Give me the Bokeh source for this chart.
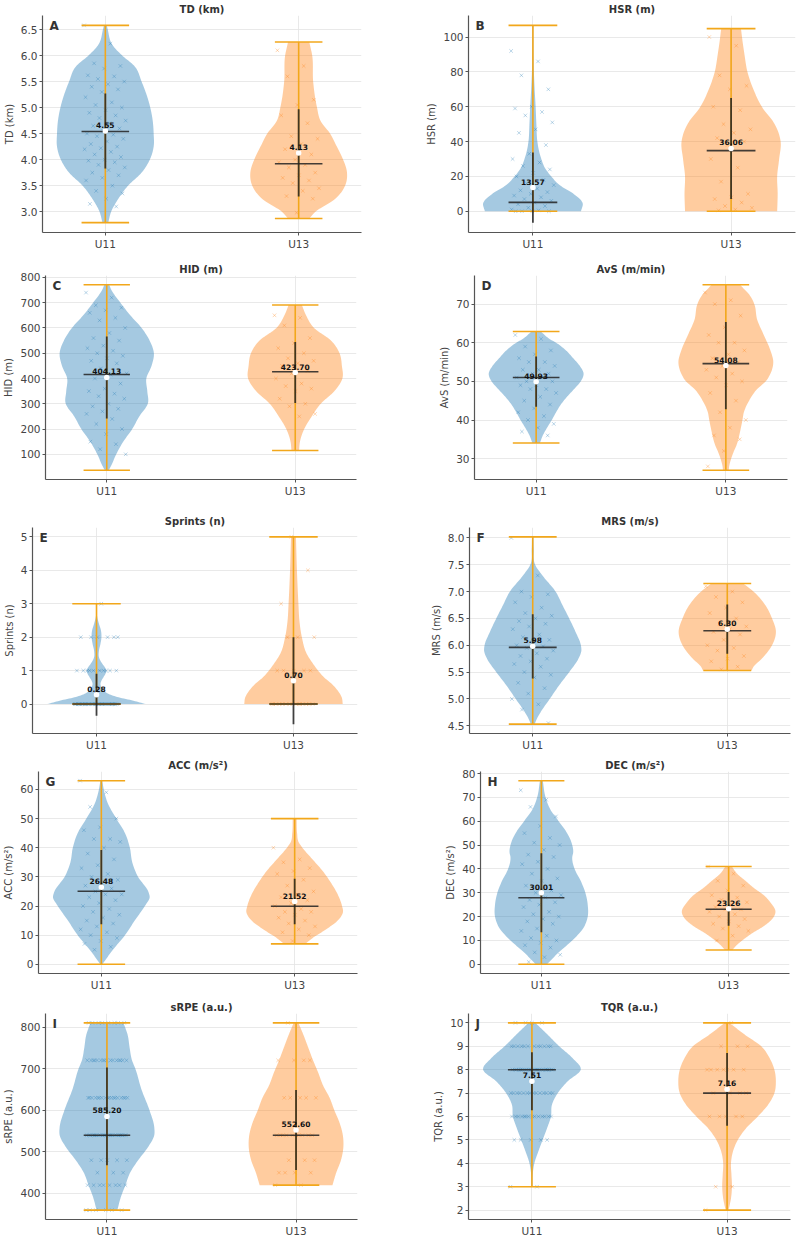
import numpy as np
from bokeh.plotting import figure
from bokeh.layouts import column, row
from bokeh.models import FixedTicker, Range1d, NumeralTickFormatter
from bokeh.embed import file_html
from bokeh.resources import INLINE
from bokeh.core.properties import value

groups = ["U11", "U13"]
group_colors = ["#1f77b4", "#ff7f0e"]

# ---------------- TD (km)
td_min = [2.79, 2.87]
td_max = [6.58, 6.26]
td_median = [4.54, 3.92]
td_mean = [4.55, 4.13]
td_sd = [0.72, 0.84]
td_u11_y = [2.79, 3.0, 3.25, 3.5, 3.75, 4.0, 4.25, 4.5, 4.75, 5.0, 5.5, 5.8, 6.0, 6.2, 6.5, 6.58]
td_u11_w = [0.06, 0.12, 0.27, 0.47, 0.75, 0.92, 1.0, 1.0, 0.98, 0.93, 0.75, 0.6, 0.35, 0.15, 0.05, 0.03]
td_u13_y = [2.87, 3.0, 3.25, 3.5, 3.75, 4.0, 4.25, 4.5, 4.75, 5.0, 5.5, 6.0, 6.26]
td_u13_w = [0.22, 0.35, 0.76, 0.96, 1.0, 0.92, 0.79, 0.65, 0.45, 0.38, 0.3, 0.28, 0.22]
td_u11_pts = [6.58, 6.23, 5.85, 5.8, 5.75, 5.62, 5.6, 5.55, 5.5, 5.45, 5.4, 5.35, 5.3, 5.2, 5.1,
              5.05, 5.0, 4.95, 4.9, 4.85, 4.8, 4.75, 4.7, 4.65, 4.6, 4.55, 4.5, 4.48, 4.45, 4.4,
              4.35, 4.3, 4.25, 4.22, 4.2, 4.15, 4.1, 4.05, 4.0, 3.98, 3.95, 3.9, 3.85, 3.8, 3.75,
              3.7, 3.65, 3.6, 3.5, 3.4, 3.35, 3.25, 3.15, 3.1]
td_u13_pts = [6.1, 5.8, 5.6, 5.15, 5.05, 4.85, 4.7, 4.45, 4.4, 4.3, 4.2, 4.1, 4.0, 3.95, 3.9,
              3.85, 3.75, 3.7, 3.65, 3.6, 3.55, 3.45, 3.4, 3.3, 3.25, 2.98]
td_ticks = [3.0, 3.5, 4.0, 4.5, 5.0, 5.5, 6.0, 6.5]

# ---------------- HSR (m)
hsr_min = [0.0, 0.0]
hsr_max = [106.7, 104.8]
hsr_median = [5.1, 34.8]
hsr_mean = [13.57, 36.06]
hsr_sd = [20.1, 29.0]
hsr_u11_y = [0, 5, 10, 15, 20, 25, 30, 35, 40, 50, 60, 70, 80, 90, 106.7]
hsr_u11_w = [0.97, 1.0, 0.82, 0.54, 0.37, 0.24, 0.17, 0.12, 0.09, 0.07, 0.055, 0.035, 0.02, 0.012, 0.008]
hsr_u13_y = [0, 10, 20, 30, 40, 50, 60, 70, 80, 90, 100, 104.8]
hsr_u13_w = [0.93, 0.94, 0.93, 0.97, 1.0, 0.88, 0.62, 0.45, 0.33, 0.27, 0.22, 0.2]
hsr_u11_pts = [92, 86, 78, 70, 60, 59, 57, 55, 51, 47, 45, 38, 33, 30, 28, 26, 24, 22, 20, 18,
               16, 15, 13, 12, 11, 10, 9, 8, 7, 6, 5, 4, 3, 2, 1, 0.5, 0, 0, 0, 0]
hsr_u13_pts = [100, 95, 78, 72, 70, 60, 58, 50, 47, 45, 42, 40, 38, 30, 25, 17, 10, 8, 7, 5, 3, 2, 1, 0.5]
hsr_ticks = [0, 20, 40, 60, 80, 100]

# ---------------- HID (m)
hid_min = [37, 115]
hid_max = [771, 691]
hid_median = [416, 427]
hid_mean = [404.13, 423.70]
hid_sd = [162, 121]
hid_u11_y = [37, 50, 100, 150, 200, 250, 300, 350, 400, 450, 500, 550, 600, 650, 700, 750, 771]
hid_u11_w = [0.04, 0.08, 0.2, 0.35, 0.54, 0.69, 0.87, 0.86, 0.84, 0.95, 1.0, 0.91, 0.74, 0.5, 0.29, 0.1, 0.05]
hid_u13_y = [115, 150, 200, 250, 300, 350, 400, 450, 500, 550, 600, 650, 691]
hid_u13_w = [0.08, 0.1, 0.19, 0.35, 0.54, 0.83, 1.0, 0.99, 0.94, 0.76, 0.4, 0.23, 0.14]
hid_u11_pts = [740, 720, 690, 680, 670, 660, 640, 630, 600, 580, 560, 550, 530, 520, 510, 500, 490,
               480, 470, 460, 440, 420, 415, 400, 380, 360, 350, 340, 330, 320, 300, 290, 280, 270,
               260, 240, 220, 200, 180, 150, 140, 120, 100]
hid_u13_pts = [650, 640, 610, 560, 540, 520, 500, 480, 470, 460, 450, 430, 420, 400, 380, 370, 360,
               350, 320, 300, 290, 260, 250]
hid_ticks = [0, 100, 200, 300, 400, 500, 600, 700, 800]

# ---------------- AvS (m/min)
avs_min = [34.05, 27.0]
avs_max = [62.9, 75.0]
avs_median = [51.0, 54.6]
avs_mean = [49.93, 54.08]
avs_sd = [6.5, 11.3]
avs_u11_y = [34.05, 36, 38, 40, 42, 44, 46, 48, 50, 52, 54, 56, 58, 60, 61, 62.9]
avs_u11_w = [0.08, 0.14, 0.23, 0.33, 0.42, 0.52, 0.65, 0.8, 0.94, 1.0, 0.92, 0.78, 0.63, 0.42, 0.28, 0.1]
avs_u13_y = [27, 28, 31, 34, 37, 40, 42, 45, 48, 50, 52, 55, 58, 62, 66, 70, 72, 75]
avs_u13_w = [0.06, 0.07, 0.14, 0.24, 0.3, 0.35, 0.38, 0.49, 0.66, 0.84, 0.94, 1.0, 0.94, 0.8, 0.66, 0.6, 0.52, 0.3]
avs_u11_pts = [62, 61, 59, 58, 57, 56, 55, 55, 54, 53, 53, 52, 52, 51, 51, 50, 50, 49, 49, 48, 48,
               47, 46, 45, 44, 43, 42, 41, 40, 39, 38, 37, 36]
avs_u13_pts = [73, 71, 70, 67, 64, 62, 60, 60, 58, 57, 56, 55, 54, 53, 52, 51, 50, 49, 47, 45, 42,
               40, 38, 36, 35, 32, 28]
avs_ticks = [30, 40, 50, 60, 70]

# ---------------- Sprints (n)
spr_min = [0, 0]
spr_max = [3, 5]
spr_median = [0, 0]
spr_mean = [0.28, 0.70]
spr_sd = [0.63, 1.30]
spr_u11_y = [0, 0.1, 0.2, 0.3, 0.4, 0.5, 0.6, 0.7, 0.8, 0.9, 1.0, 1.1, 1.2, 1.4, 1.6, 1.8, 2.0, 2.2, 2.4, 2.6, 3.0]
spr_u11_w = [1.0, 0.75, 0.45, 0.25, 0.15, 0.1, 0.08, 0.1, 0.14, 0.18, 0.2, 0.17, 0.12, 0.05, 0.05,
             0.08, 0.1, 0.09, 0.05, 0.015, 0.005]
spr_u13_y = [0, 0.2, 0.4, 0.6, 0.8, 1.0, 1.2, 1.5, 2.0, 2.5, 3.0, 4.0, 5.0]
spr_u13_w = [1.0, 0.98, 0.9, 0.78, 0.62, 0.5, 0.4, 0.27, 0.17, 0.12, 0.1, 0.07, 0.05]
spr_u11_vals = [0, 1, 2, 3]
spr_u11_counts = [40, 10, 6, 1]
spr_u13_vals = [0, 1, 2, 3, 4, 5]
spr_u13_counts = [15, 5, 3, 1, 1, 1]
spr_ticks = [0, 1, 2, 3, 4, 5]

# ---------------- MRS (m/s)
mrs_min = [4.53, 5.53]
mrs_max = [8.02, 7.15]
mrs_median = [5.96, 6.27]
mrs_mean = [5.98, 6.30]
mrs_sd = [0.60, 0.46]
mrs_u11_y = [4.53, 4.6, 4.75, 5.0, 5.25, 5.5, 5.75, 5.9, 6.0, 6.25, 6.5, 6.75, 7.0, 7.3, 7.5, 7.8, 8.02]
mrs_u11_w = [0.04, 0.07, 0.16, 0.35, 0.54, 0.75, 0.94, 1.0, 0.99, 0.88, 0.75, 0.61, 0.47, 0.2, 0.05, 0.02, 0.015]
mrs_u13_y = [5.53, 5.6, 5.75, 6.0, 6.25, 6.5, 6.75, 7.0, 7.15]
mrs_u13_w = [0.5, 0.54, 0.71, 0.92, 1.0, 0.92, 0.78, 0.54, 0.33]
mrs_u11_pts = [8.0, 7.3, 7.0, 6.95, 6.9, 6.8, 6.7, 6.6, 6.55, 6.5, 6.45, 6.4, 6.35, 6.3, 6.2, 6.15,
               6.1, 6.05, 6.0, 5.98, 5.95, 5.9, 5.85, 5.8, 5.75, 5.7, 5.65, 5.6, 5.5, 5.45, 5.4,
               5.3, 5.2, 5.1, 5.0, 4.9, 4.8, 4.55]
mrs_u13_pts = [7.1, 7.0, 6.9, 6.8, 6.7, 6.6, 6.5, 6.4, 6.35, 6.3, 6.25, 6.2, 6.1, 6.0, 5.95, 5.9,
               5.8, 5.75, 5.7, 5.6, 5.55]
mrs_ticks = [4.5, 5.0, 5.5, 6.0, 6.5, 7.0, 7.5, 8.0]

# ---------------- ACC (m/s²)
acc_min = [0, 7]
acc_max = [63, 50]
acc_median = [25.05, 19.9]
acc_mean = [26.48, 21.52]
acc_sd = [12.7, 7.8]
acc_u11_y = [0, 5, 10, 15, 20, 23, 25, 30, 35, 40, 45, 50, 55, 60, 63]
acc_u11_w = [0.02, 0.24, 0.49, 0.69, 0.9, 1.0, 0.97, 0.76, 0.64, 0.59, 0.49, 0.31, 0.14, 0.05, 0.02]
acc_u13_y = [7, 9, 12, 15, 18, 20, 24, 28, 32, 36, 40, 42, 45, 50]
acc_u13_w = [0.22, 0.37, 0.65, 0.89, 1.0, 0.98, 0.89, 0.75, 0.58, 0.37, 0.16, 0.08, 0.05, 0.04]
acc_u11_pts = [63, 59, 54, 50, 47, 46, 43, 43, 42, 40, 38, 36, 34, 33, 31, 30, 29, 28, 27, 26, 25,
               24, 24, 23, 22, 21, 20, 19, 18, 17, 16, 15, 14, 13, 12, 11, 10, 9, 8, 7, 6, 5]
acc_u13_pts = [40, 36, 35, 33, 32, 31, 29, 27, 25, 24, 23, 22, 21, 20, 19, 18, 18, 17, 16, 15, 14,
               13, 12, 11, 10, 8]
acc_ticks = [0, 10, 20, 30, 40, 50, 60]

# ---------------- DEC (m/s²)
dec_min = [0, 6]
dec_max = [77, 41]
dec_median = [27.9, 23.1]
dec_mean = [30.01, 23.26]
dec_sd = [16.6, 7.1]
dec_u11_y = [0, 5, 10, 15, 20, 25, 30, 35, 40, 45, 47, 50, 55, 60, 65, 70, 77]
dec_u11_w = [0.12, 0.37, 0.66, 0.89, 0.99, 0.99, 0.94, 0.84, 0.71, 0.66, 0.68, 0.66, 0.55, 0.37, 0.19, 0.09, 0.03]
dec_u13_y = [6, 8, 10, 13, 16, 19, 22, 26, 29, 32, 35, 38, 41]
dec_u13_w = [0.08, 0.17, 0.29, 0.5, 0.75, 0.93, 1.0, 0.89, 0.75, 0.54, 0.36, 0.18, 0.07]
dec_u11_pts = [73, 69, 66, 62, 58, 55, 53, 51, 50, 48, 46, 45, 43, 42, 40, 38, 36, 35, 33, 31, 30,
               29, 28, 27, 26, 25, 24, 22, 21, 20, 19, 18, 17, 15, 14, 12, 11, 10, 9, 8, 7, 5, 4, 3, 1]
dec_u13_pts = [41, 38, 35, 33, 31, 29, 28, 27, 26, 25, 24, 23, 23, 22, 21, 20, 19, 18, 17, 16, 15,
               14, 12, 10]
dec_ticks = [0, 10, 20, 30, 40, 50, 60, 70, 80]

# ---------------- sRPE (a.u.)
srpe_min = [360, 420]
srpe_max = [810, 810]
srpe_median = [540, 540]
srpe_mean = [585.20, 552.60]
srpe_sd = [117.6, 96.0]
srpe_u11_y = [360, 390, 420, 450, 480, 510, 540, 560, 600, 650, 700, 720, 750, 780, 810]
srpe_u11_w = [0.22, 0.29, 0.39, 0.49, 0.66, 0.86, 1.0, 1.0, 0.9, 0.73, 0.6, 0.53, 0.48, 0.44, 0.35]
srpe_u13_y = [420, 450, 480, 510, 540, 570, 600, 630, 660, 690, 720, 750, 780, 810]
srpe_u13_w = [0.77, 0.85, 0.95, 1.0, 0.99, 0.92, 0.81, 0.71, 0.57, 0.47, 0.36, 0.26, 0.16, 0.05]
srpe_u11_vals = [360, 420, 450, 480, 540, 630, 720, 810]
srpe_u11_counts = [6, 8, 3, 5, 25, 18, 16, 8]
srpe_u13_vals = [420, 450, 480, 540, 630, 720, 810]
srpe_u13_counts = [2, 4, 3, 10, 5, 4, 1]
srpe_ticks = [400, 500, 600, 700, 800]

# ---------------- TQR (a.u.)
tqr_min = [3, 2]
tqr_max = [10, 10]
tqr_median = [8, 7]
tqr_mean = [7.51, 7.16]
tqr_sd = [1.24, 1.55]
tqr_u11_y = [3, 3.5, 4, 4.5, 5, 5.5, 6, 6.5, 7, 7.5, 8, 8.5, 9, 9.5, 10]
tqr_u11_w = [0.01, 0.015, 0.05, 0.13, 0.22, 0.31, 0.39, 0.41, 0.53, 0.73, 1.0, 0.83, 0.56, 0.32, 0.07]
tqr_u13_y = [2, 2.5, 3, 3.5, 4, 4.5, 5, 5.5, 6, 6.5, 7, 7.5, 8, 8.5, 9, 9.5, 10]
tqr_u13_w = [0.03, 0.08, 0.1, 0.09, 0.08, 0.12, 0.22, 0.39, 0.63, 0.84, 0.97, 1.0, 0.97, 0.87, 0.7, 0.36, 0.05]
tqr_u11_vals = [3, 5, 6, 7, 8, 9, 10]
tqr_u11_counts = [2, 5, 14, 14, 25, 12, 4]
tqr_u13_vals = [2, 3, 6, 7, 8, 9, 10]
tqr_u13_counts = [1, 2, 5, 4, 7, 3, 1]
tqr_ticks = [2, 3, 4, 5, 6, 7, 8, 9, 10]


def expand(vals, counts):
    return list(np.repeat(vals, counts))


panels = [
    dict(letter="A", title="TD (km)", ylabel="TD (km)", mn=td_min, mx=td_max, med=td_median,
         mean=td_mean, sd=td_sd, prof=[(td_u11_y, td_u11_w), (td_u13_y, td_u13_w)],
         pts=[td_u11_pts, td_u13_pts], ticks=td_ticks, fmt="0.0"),
    dict(letter="B", title="HSR (m)", ylabel="HSR (m)", mn=hsr_min, mx=hsr_max, med=hsr_median,
         mean=hsr_mean, sd=hsr_sd, prof=[(hsr_u11_y, hsr_u11_w), (hsr_u13_y, hsr_u13_w)],
         pts=[hsr_u11_pts, hsr_u13_pts], ticks=hsr_ticks, fmt="0"),
    dict(letter="C", title="HID (m)", ylabel="HID (m)", mn=hid_min, mx=hid_max, med=hid_median,
         mean=hid_mean, sd=hid_sd, prof=[(hid_u11_y, hid_u11_w), (hid_u13_y, hid_u13_w)],
         pts=[hid_u11_pts, hid_u13_pts], ticks=hid_ticks, fmt="0"),
    dict(letter="D", title="AvS (m/min)", ylabel="AvS (m/min)", mn=avs_min, mx=avs_max, med=avs_median,
         mean=avs_mean, sd=avs_sd, prof=[(avs_u11_y, avs_u11_w), (avs_u13_y, avs_u13_w)],
         pts=[avs_u11_pts, avs_u13_pts], ticks=avs_ticks, fmt="0"),
    dict(letter="E", title="Sprints (n)", ylabel="Sprints (n)", mn=spr_min, mx=spr_max, med=spr_median,
         mean=spr_mean, sd=spr_sd, prof=[(spr_u11_y, spr_u11_w), (spr_u13_y, spr_u13_w)],
         pts=[expand(spr_u11_vals, spr_u11_counts), expand(spr_u13_vals, spr_u13_counts)],
         ticks=spr_ticks, fmt="0"),
    dict(letter="F", title="MRS (m/s)", ylabel="MRS (m/s)", mn=mrs_min, mx=mrs_max, med=mrs_median,
         mean=mrs_mean, sd=mrs_sd, prof=[(mrs_u11_y, mrs_u11_w), (mrs_u13_y, mrs_u13_w)],
         pts=[mrs_u11_pts, mrs_u13_pts], ticks=mrs_ticks, fmt="0.0"),
    dict(letter="G", title="ACC (m/s²)", ylabel="ACC (m/s²)", mn=acc_min, mx=acc_max, med=acc_median,
         mean=acc_mean, sd=acc_sd, prof=[(acc_u11_y, acc_u11_w), (acc_u13_y, acc_u13_w)],
         pts=[acc_u11_pts, acc_u13_pts], ticks=acc_ticks, fmt="0"),
    dict(letter="H", title="DEC (m/s²)", ylabel="DEC (m/s²)", mn=dec_min, mx=dec_max, med=dec_median,
         mean=dec_mean, sd=dec_sd, prof=[(dec_u11_y, dec_u11_w), (dec_u13_y, dec_u13_w)],
         pts=[dec_u11_pts, dec_u13_pts], ticks=dec_ticks, fmt="0"),
    dict(letter="I", title="sRPE (a.u.)", ylabel="sRPE (a.u.)", mn=srpe_min, mx=srpe_max, med=srpe_median,
         mean=srpe_mean, sd=srpe_sd, prof=[(srpe_u11_y, srpe_u11_w), (srpe_u13_y, srpe_u13_w)],
         pts=[expand(srpe_u11_vals, srpe_u11_counts), expand(srpe_u13_vals, srpe_u13_counts)],
         ticks=srpe_ticks, fmt="0"),
    dict(letter="J", title="TQR (a.u.)", ylabel="TQR (a.u.)", mn=tqr_min, mx=tqr_max, med=tqr_median,
         mean=tqr_mean, sd=tqr_sd, prof=[(tqr_u11_y, tqr_u11_w), (tqr_u13_y, tqr_u13_w)],
         pts=[expand(tqr_u11_vals, tqr_u11_counts), expand(tqr_u13_vals, tqr_u13_counts)],
         ticks=tqr_ticks, fmt="0"),
]

# Layout: row heights and per-panel borders (left, right, top, bottom)
row_heights = [253, 250, 250, 240, 246]
borders = [
    (32, 39, 13, 21), (68, 5, 13, 21),
    (36, 44, 22, 16), (74, 13, 22, 24),
    (29, 43, 24, 18), (69, 10, 24, 15),
    (37, 43, 14, 19), (80, 11, 18, 20),
    (38, 43, 19, 15), (68, 10, 20, 18),
]

FONT = "DejaVu Sans"
HALF_WIDTH = 0.25      # maximum violin half-width in category units
CAP = 0.123            # half-length of caps / median bar
LINE_ORANGE = "#f2a71b"
DARK = "#222222"


def smooth_profile(ys, ws, n=240):
    ys = np.asarray(ys, float)
    ws = np.asarray(ws, float)
    m = np.gradient(ws, ys)
    t = np.linspace(ys[0], ys[-1], n)
    idx = np.clip(np.searchsorted(ys, t, side="right") - 1, 0, len(ys) - 2)
    h = ys[idx + 1] - ys[idx]
    s = (t - ys[idx]) / h
    h00 = 2 * s**3 - 3 * s**2 + 1
    h10 = s**3 - 2 * s**2 + s
    h01 = -2 * s**3 + 3 * s**2
    h11 = s**3 - s**2
    w = h00 * ws[idx] + h10 * h * m[idx] + h01 * ws[idx + 1] + h11 * h * m[idx + 1]
    return t, np.clip(w, 0.003, None)


def make_panel(spec, border, height):
    left, right, top, bottom = border
    mean = np.asarray(spec["mean"], float)
    sd = np.asarray(spec["sd"], float)
    lo = min(min(spec["mn"]), float((mean - sd).min()))
    hi = max(max(spec["mx"]), float((mean + sd).max()))
    pad = 0.05 * (hi - lo)
    x0, x1 = -0.325, 1.325
    y0, y1 = lo - pad, hi + pad

    p = figure(width=400, height=height, output_backend="svg", toolbar_location=None,
               x_range=Range1d(x0, x1), y_range=Range1d(y0, y1),
               min_border_left=left, min_border_right=right,
               min_border_top=top, min_border_bottom=bottom,
               title=spec["title"])
    p.outline_line_color = None
    p.background_fill_color = "white"
    p.border_fill_color = "white"
    p.title.align = "center"
    p.title.text_font = FONT
    p.title.text_font_size = "10px"
    p.title.text_font_style = "bold"
    p.title.text_color = "#333333"
    p.title.standoff = 2

    p.xaxis.ticker = FixedTicker(ticks=[0, 1])
    p.xaxis.major_label_overrides = {0: groups[0], 1: groups[1]}
    p.yaxis.ticker = FixedTicker(ticks=spec["ticks"])
    p.yaxis.formatter = NumeralTickFormatter(format=spec["fmt"])
    p.yaxis.axis_label = spec["ylabel"]
    for ax in (p.xaxis, p.yaxis):
        ax.axis_line_color = "#555555"
        ax.axis_line_width = 1.2
        ax.major_tick_line_color = "#555555"
        ax.major_tick_out = 3
        ax.major_tick_in = 0
        ax.minor_tick_line_color = None
        ax.major_label_text_font = FONT
        ax.major_label_text_font_size = "10.5px"
        ax.major_label_text_color = "#444444"
        ax.major_label_standoff = 2
    p.yaxis.axis_label_text_font = FONT
    p.yaxis.axis_label_text_font_size = "10px"
    p.yaxis.axis_label_text_font_style = "normal"
    p.yaxis.axis_label_text_color = "#444444"
    p.yaxis.axis_label_standoff = 3
    p.xgrid.grid_line_color = "#e3e3e3"
    p.ygrid.grid_line_color = "#e3e3e3"
    p.xgrid.grid_line_alpha = 0.8
    p.ygrid.grid_line_alpha = 0.8

    for g in range(2):
        col = group_colors[g]
        py, pw = spec["prof"][g]
        t, w = smooth_profile(py, pw)
        xs = np.concatenate([g - HALF_WIDTH * w, (g + HALF_WIDTH * w)[::-1]])
        ys = np.concatenate([t, t[::-1]])
        p.patch(xs, ys, fill_color=col, fill_alpha=0.4, line_color=None)

        pts = np.asarray(spec["pts"][g], float)
        k = np.arange(len(pts))
        jitter = ((k * 0.6180339887) % 1.0 - 0.5) * 0.22
        p.scatter(g + jitter, pts, marker="x", size=5, line_color=col, line_alpha=0.3, line_width=1)

    gx = np.array([0.0, 1.0])
    mn = np.asarray(spec["mn"], float)
    mx = np.asarray(spec["mx"], float)
    med = np.asarray(spec["med"], float)
    # range line and caps
    p.segment(gx, mn, gx, mx, line_color=LINE_ORANGE, line_width=1.6)
    p.segment(gx - CAP, mn, gx + CAP, mn, line_color=LINE_ORANGE, line_width=1.6)
    p.segment(gx - CAP, mx, gx + CAP, mx, line_color=LINE_ORANGE, line_width=1.6)
    # mean ± SD and median
    p.segment(gx, mean - sd, gx, mean + sd, line_color=DARK, line_width=1.8, line_alpha=0.85)
    p.segment(gx - CAP, med, gx + CAP, med, line_color=DARK, line_width=1.6, line_alpha=0.85)
    p.scatter(gx, mean, marker="circle", size=5.5, fill_color="white", line_color=None)
    p.text(gx, mean, text=[f"{m:.2f}" for m in mean], text_align="center",
           text_baseline="bottom", y_offset=-3, text_font=value(FONT),
           text_font_size="7.5px", text_font_style="bold", text_color="#111111")
    # panel letter
    p.text([x0], [y1], text=[spec["letter"]], x_offset=7, y_offset=3, text_align="left",
           text_baseline="top", text_font=value(FONT), text_font_size="12px",
           text_font_style="bold", text_color="#333333")
    return p


figs = [make_panel(spec, borders[i], row_heights[i // 2]) for i, spec in enumerate(panels)]
layout = column(*[row(figs[2 * r], figs[2 * r + 1]) for r in range(5)])

open("out.html", "w").write(file_html(layout, INLINE))
